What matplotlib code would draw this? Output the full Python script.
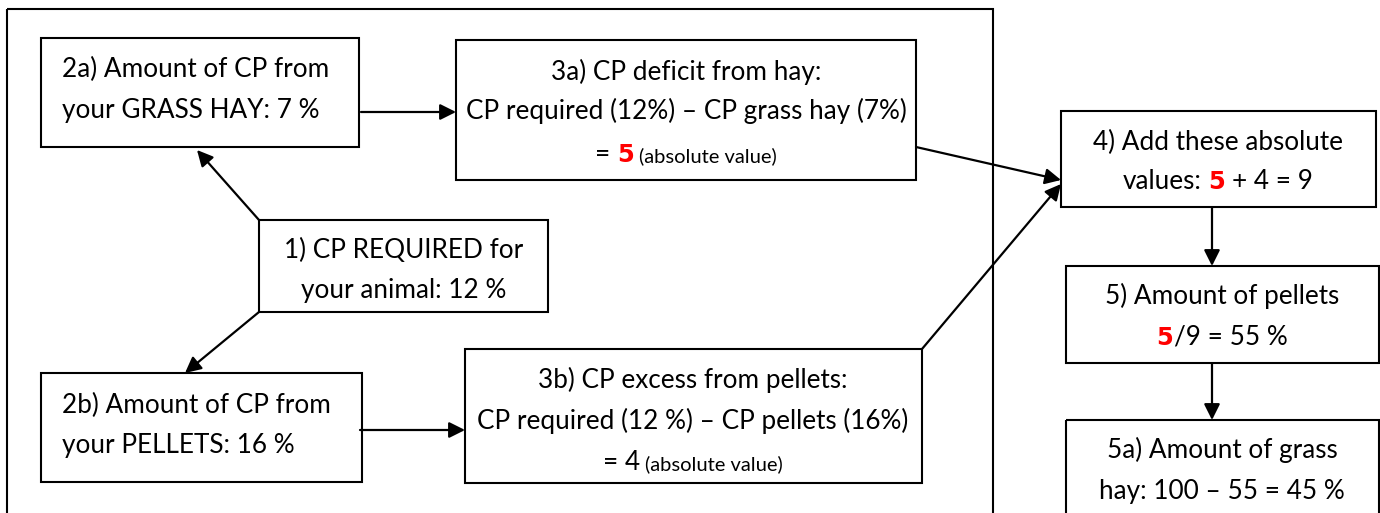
import matplotlib
matplotlib.use("Agg")
import matplotlib.pyplot as plt
from matplotlib.patches import Rectangle

# Data: box texts as lines of (text, style) segments
# style: 'n' normal, 's' small, 'r' red bold
box_2a = [[("2a) Amount of CP from", "n")], [("your GRASS HAY: 7 %", "n")]]
box_3a = [[("3a) CP deficit from hay:", "n")],
          [("CP required (12%) \u2013 CP grass hay (7%)", "n")],
          [("=", "n"), ("5", "r"), ("(absolute value)", "s")]]
box_1 = [[("1) CP REQUIRED for", "n")], [("your animal: 12 %", "n")]]
box_2b = [[("2b) Amount of CP from", "n")], [("your PELLETS: 16 %", "n")]]
box_3b = [[("3b) CP excess from pellets:", "n")],
          [("CP required (12 %) \u2013 CP pellets (16%)", "n")],
          [("=", "n"), ("4", "n"), ("(absolute value)", "s")]]
box_4 = [[("4) Add these absolute", "n")],
         [("values:", "n"), ("5", "r"), ("+ 4 = 9", "n")]]
box_5 = [[("5) Amount of pellets", "n")], [("5", "r"), ("/9 = 55 %", "n", 0)]]
box_5a = [[("5a) Amount of grass", "n")], [("hay: 100 \u2013 55 = 45 %", "n")]]

FONT = "Lato"
SIZES = {"n": 18.8, "s": 14.5, "r": 17.5}

W, H = 1380, 513
fig = plt.figure(figsize=(W / 100, H / 100), dpi=100)
ax = fig.add_axes([0, 0, 1, 1])
ax.set_xlim(0, W)
ax.set_ylim(H, 0)
ax.axis("off")
renderer = fig.canvas.get_renderer()


def rect(x0, y0, x1, y1):
    r = Rectangle((x0, y0), x1 - x0, y1 - y0, fill=False, ec="black", lw=1.5)
    ax.add_patch(r)
    return r


def text_width(s, size):
    t = ax.text(0, 0, s, fontsize=size, family=FONT)
    w = t.get_window_extent(renderer).width
    t.remove()
    return w


def draw_line(segs, x, y, ha="center", clip=None):
    items = []
    for i, seg in enumerate(segs):
        s, style = seg[0], seg[1]
        size = SIZES[style]
        if style == "r":
            t = ax.text(0, y, s, fontsize=size, family="DejaVu Sans", color="#FF0000",
                        fontweight="bold", va="baseline", ha="left")
        else:
            t = ax.text(0, y, s, fontsize=size, family=FONT, color="black",
                        va="baseline", ha="left")
        w = t.get_window_extent(renderer).width
        gap = 0
        if i > 0:
            gap = seg[2] * 6 if len(seg) > 2 else text_width("a a", size) - text_width("aa", size)
        items.append((t, w, gap))
    total = sum(w + g for _, w, g in items)
    cx = x - total / 2 if ha == "center" else x
    for t, w, g in items:
        cx += g
        t.set_x(cx)
        if clip is not None:
            t.set_clip_path(clip)
        cx += w


def arrow(x0, y0, x1, y1):
    ax.annotate("", xy=(x1, y1), xytext=(x0, y0),
                arrowprops=dict(arrowstyle="-|>", color="black", lw=1.6,
                                mutation_scale=24, shrinkA=0, shrinkB=0))


# outer frame
rect(7, 9, 993, 530)

rect(41, 38, 359, 147)
for seg, yb in zip(box_2a, [77, 118]):
    draw_line(seg, 62, yb, ha="left")

rect(456, 40, 916, 180)
for seg, yb in zip(box_3a, [80, 119, 162]):
    draw_line(seg, 686, yb)

rect(259, 220, 548, 312)
clip = Rectangle((259, 220), 289, 80, transform=ax.transData)
for seg, yb in zip(box_1, [258, 298]):
    draw_line(seg, 404, yb, clip=clip)

rect(41, 373, 362, 482)
for seg, yb in zip(box_2b, [413, 453]):
    draw_line(seg, 62, yb, ha="left")

rect(465, 349, 922, 483)
for seg, yb in zip(box_3b, [388, 429, 470]):
    draw_line(seg, 693, yb)

rect(1061, 111, 1376, 207)
for seg, yb in zip(box_4, [150, 189]):
    draw_line(seg, 1218, yb)

rect(1066, 266, 1379, 363)
for seg, yb in zip(box_5, [304, 345]):
    draw_line(seg, 1222, yb)

rect(1066, 420, 1379, 530)
for seg, yb in zip(box_5a, [458, 499]):
    draw_line(seg, 1222, yb)

# connectors
arrow(361, 112, 456, 112)
arrow(259, 220, 197, 150)
arrow(259, 312, 185, 373)
arrow(360, 430, 465, 430)
arrow(916, 147, 1061, 180)
arrow(922, 349, 1061, 184)
arrow(1212, 208, 1212, 266)
arrow(1212, 364, 1212, 420)

fig.savefig("out.png", dpi=100)
